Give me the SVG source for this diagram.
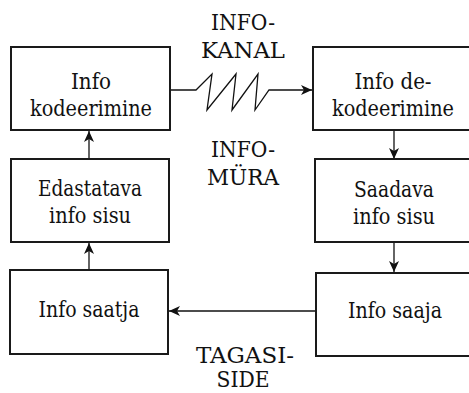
<svg xmlns="http://www.w3.org/2000/svg" width="469" height="393" viewBox="0 0 469 393">
<style>
.box{fill:#fff;stroke:#1a1a1a;stroke-width:2}
.t{font-family:"DejaVu Serif Condensed","DejaVu Serif",serif;font-stretch:condensed;font-size:22px;fill:#111;text-anchor:middle}
.c{fill:none;stroke:#111;stroke-width:1.3}
</style>
<defs>
<marker id="ah" markerWidth="12" markerHeight="10" refX="11" refY="5" orient="auto" markerUnits="userSpaceOnUse">
<path d="M0,0 L11,5 L0,10 L3,5 Z" fill="#111"/>
</marker>
</defs>
<rect width="469" height="393" fill="#fff"/>
<g id="connectors">
<path class="c" d="M170,90 L196,90 L212,74 L207,110 L236,74 L232,110 L258,74 L255,110 L269,90 L312,90" marker-end="url(#ah)"/>
<path class="c" d="M394,130 L394,159" marker-end="url(#ah)"/>
<path class="c" d="M394,242 L394,272" marker-end="url(#ah)"/>
<path class="c" d="M316,311 L169,311" marker-end="url(#ah)"/>
<path class="c" d="M89,270 L89,243" marker-end="url(#ah)"/>
<path class="c" d="M89,159 L89,131" marker-end="url(#ah)"/>
</g>
<g id="n1"><rect class="box" x="11" y="47" width="159" height="83"/><text class="t" x="91" y="89" textLength="40" lengthAdjust="spacingAndGlyphs">Info</text><text class="t" x="91" y="116" textLength="122" lengthAdjust="spacingAndGlyphs">kodeerimine</text></g>
<g id="n2"><rect class="box" x="11" y="159" width="158" height="83"/><text class="t" x="90" y="196" textLength="104" lengthAdjust="spacingAndGlyphs">Edastatava</text><text class="t" x="90" y="223" textLength="82" lengthAdjust="spacingAndGlyphs">info sisu</text></g>
<g id="n3"><rect class="box" x="10" y="270" width="158" height="84"/><text class="t" x="89" y="317" textLength="101" lengthAdjust="spacingAndGlyphs">Info saatja</text></g>
<g id="n4"><rect class="box" x="313" y="47" width="160" height="83"/><text class="t" x="393" y="89" textLength="77" lengthAdjust="spacingAndGlyphs">Info de-</text><text class="t" x="393" y="116" textLength="122" lengthAdjust="spacingAndGlyphs">kodeerimine</text></g>
<g id="n5"><rect class="box" x="315" y="159" width="158" height="83"/><text class="t" x="394" y="197" textLength="80" lengthAdjust="spacingAndGlyphs">Saadava</text><text class="t" x="394" y="224" textLength="82" lengthAdjust="spacingAndGlyphs">info sisu</text></g>
<g id="n6"><rect class="box" x="316" y="273" width="157" height="83"/><text class="t" x="395" y="318" textLength="94" lengthAdjust="spacingAndGlyphs">Info saaja</text></g>
<g id="labels">
<text class="t" x="243" y="30" textLength="64" lengthAdjust="spacingAndGlyphs">INFO-</text><text class="t" x="243" y="58" textLength="84" lengthAdjust="spacingAndGlyphs">KANAL</text>
<text class="t" x="243" y="157" textLength="64" lengthAdjust="spacingAndGlyphs">INFO-</text><text class="t" x="243" y="185" textLength="72" lengthAdjust="spacingAndGlyphs">MÜRA</text>
<text class="t" x="245" y="363" textLength="98" lengthAdjust="spacingAndGlyphs">TAGASI-</text><text class="t" x="243" y="387" textLength="53" lengthAdjust="spacingAndGlyphs">SIDE</text>
</g>
</svg>
